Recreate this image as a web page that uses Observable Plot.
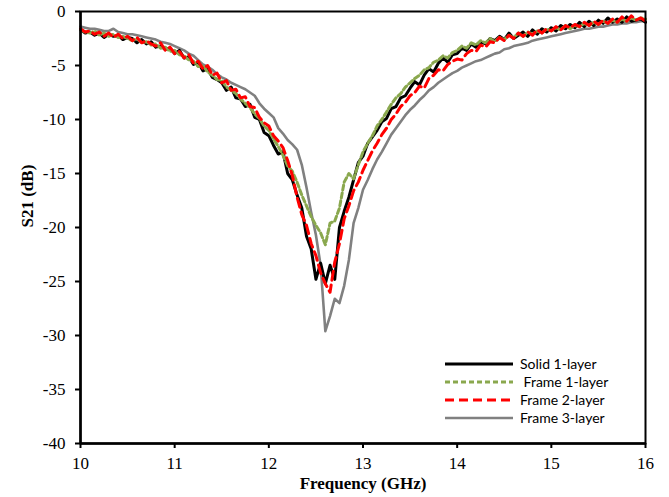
<!DOCTYPE html>
<html>
<head>
<meta charset="utf-8">
<script src="https://cdn.jsdelivr.net/npm/d3@7"></script>
<script src="https://cdn.jsdelivr.net/npm/@observablehq/plot@0.6"></script>
<style>
  html, body { margin: 0; padding: 0; background: #fff; }
  #chart { width: 669px; height: 497px; }
</style>
</head>
<body>
<div id="chart"></div>
<script>
// Frequency grid (GHz)
const freq = [
  10.00,10.05,10.10,10.15,10.20,10.25,10.30,10.35,10.40,10.45,10.50,10.55,10.60,10.65,10.70,10.75,10.80,10.85,10.90,10.95,
  11.00,11.05,11.10,11.15,11.20,11.25,11.30,11.35,11.40,11.45,11.50,11.55,11.60,11.65,11.70,11.75,11.80,11.85,11.90,11.95,
  12.00,12.05,12.10,12.15,12.20,12.25,12.30,12.35,12.40,12.45,12.50,12.55,12.60,12.65,12.70,12.75,12.80,12.85,12.90,12.95,
  13.00,13.05,13.10,13.15,13.20,13.25,13.30,13.35,13.40,13.45,13.50,13.55,13.60,13.65,13.70,13.75,13.80,13.85,13.90,13.95,
  14.00,14.05,14.10,14.15,14.20,14.25,14.30,14.35,14.40,14.45,14.50,14.55,14.60,14.65,14.70,14.75,14.80,14.85,14.90,14.95,
  15.00,15.05,15.10,15.15,15.20,15.25,15.30,15.35,15.40,15.45,15.50,15.55,15.60,15.65,15.70,15.75,15.80,15.85,15.90,15.95,
  16.00
];

// S21 (dB) per series
const solid1 = [
  -1.7,-2.0,-1.9,-2.2,-2.0,-2.4,-2.1,-2.3,-2.2,-2.6,-2.4,-2.5,-2.9,-2.6,-3.0,-2.8,-3.3,-3.2,-3.5,-3.4,
  -3.9,-3.6,-4.3,-4.2,-4.9,-4.7,-5.5,-5.3,-6.1,-6.3,-6.6,-7.3,-7.0,-8.0,-8.1,-8.8,-8.6,-9.8,-10.0,-11.2,
  -11.5,-12.4,-13.2,-13.0,-15.0,-15.6,-17.0,-18.2,-20.8,-22.0,-24.8,-23.3,-25.2,-23.5,-24.8,-20.0,-18.5,-17.2,-15.6,-14.0,
  -13.4,-12.2,-11.6,-11.0,-10.2,-9.9,-9.0,-8.8,-8.0,-7.8,-7.1,-6.5,-6.8,-5.9,-5.3,-5.6,-4.8,-4.3,-4.7,-4.0,
  -3.9,-3.4,-3.6,-3.0,-3.3,-2.8,-3.0,-2.5,-2.7,-2.3,-2.6,-2.0,-2.5,-2.2,-1.9,-2.3,-1.7,-2.1,-1.6,-1.9,
  -1.5,-1.8,-1.3,-1.6,-1.2,-1.5,-1.0,-1.4,-0.9,-1.3,-0.8,-1.1,-0.6,-1.0,-0.7,-1.0,-0.5,-0.9,-0.8,-0.7,
  -1.0
];
const frame1 = [
  -1.7,-1.9,-2.0,-1.8,-2.2,-2.0,-2.3,-2.1,-2.4,-2.3,-2.5,-2.7,-2.5,-2.9,-2.8,-3.1,-3.0,-3.4,-3.3,-3.7,
  -3.6,-4.0,-4.1,-4.5,-4.6,-5.1,-5.0,-5.6,-5.9,-6.3,-6.4,-7.0,-7.3,-7.6,-8.1,-8.5,-8.9,-9.5,-9.9,-10.6,
  -11.0,-11.8,-12.5,-13.3,-14.3,-14.8,-15.8,-17.0,-18.0,-19.0,-19.8,-20.5,-21.6,-19.6,-19.4,-18.2,-15.8,-15.0,-15.5,-14.2,
  -13.0,-12.2,-11.5,-10.6,-10.0,-9.3,-8.6,-8.0,-7.6,-7.0,-6.6,-6.2,-5.9,-5.4,-5.2,-4.7,-4.5,-4.1,-4.3,-3.8,
  -3.6,-3.2,-3.4,-2.9,-3.1,-2.7,-2.9,-2.5,-2.8,-2.4,-2.6,-2.2,-2.4,-2.0,-2.3,-1.9,-2.1,-1.8,-2.0,-1.6,
  -1.8,-1.5,-1.7,-1.3,-1.6,-1.3,-1.4,-1.1,-1.3,-1.0,-1.2,-0.9,-1.1,-0.8,-1.0,-0.7,-0.9,-0.6,-0.8,-0.6,
  -0.7
];
const frame2 = [
  -1.6,-1.9,-1.8,-2.1,-1.9,-2.3,-2.0,-2.4,-2.1,-2.5,-2.3,-2.7,-2.4,-2.9,-2.7,-3.0,-3.2,-2.9,-3.6,-3.3,
  -3.9,-3.7,-4.3,-4.0,-4.8,-4.6,-5.3,-5.0,-5.9,-5.7,-6.6,-6.4,-7.3,-7.2,-8.0,-7.9,-8.8,-8.9,-9.8,-10.3,
  -10.6,-11.5,-12.0,-12.6,-13.8,-15.2,-17.2,-18.8,-19.8,-21.5,-22.6,-24.2,-25.2,-26.0,-23.2,-21.5,-19.2,-18.0,-16.6,-15.8,
  -14.7,-13.8,-12.9,-12.2,-11.4,-10.8,-10.0,-9.5,-8.8,-8.4,-7.8,-7.5,-6.9,-7.1,-6.2,-5.9,-5.4,-5.5,-4.9,-4.6,
  -4.4,-4.5,-3.9,-3.6,-3.7,-3.1,-3.3,-2.8,-2.9,-2.4,-2.7,-2.2,-2.5,-2.0,-2.3,-1.9,-2.2,-1.7,-2.0,-1.6,
  -1.8,-1.4,-1.7,-1.3,-1.5,-1.2,-1.4,-1.0,-1.3,-0.9,-1.2,-0.8,-1.1,-0.7,-1.0,-0.5,-0.9,-0.4,-0.8,-0.6,
  -0.9
];
const frame3 = [
  -1.4,-1.5,-1.6,-1.6,-1.7,-1.8,-1.8,-1.6,-1.9,-2.0,-2.1,-2.1,-2.2,-2.3,-2.4,-2.5,-2.6,-2.8,-2.9,-3.0,
  -3.2,-3.4,-3.6,-3.9,-4.1,-4.5,-4.9,-5.1,-5.4,-5.8,-6.1,-6.3,-6.6,-6.8,-7.0,-7.2,-7.5,-7.8,-8.5,-9.0,
  -9.4,-9.8,-10.8,-11.3,-11.9,-12.3,-12.8,-14.2,-16.3,-18.6,-20.7,-23.5,-29.6,-28.2,-26.6,-27.0,-25.4,-23.0,-19.6,-18.2,
  -16.5,-15.6,-14.6,-13.7,-13.0,-12.2,-11.4,-10.8,-10.2,-9.6,-9.1,-8.7,-8.2,-7.8,-7.3,-7.0,-6.6,-6.3,-6.0,-5.7,
  -5.5,-5.2,-5.0,-4.8,-4.6,-4.5,-4.3,-4.1,-3.9,-3.8,-3.5,-3.4,-3.2,-3.1,-3.0,-2.9,-2.7,-2.6,-2.5,-2.4,
  -2.3,-2.2,-2.1,-2.0,-1.9,-1.8,-1.7,-1.6,-1.6,-1.5,-1.4,-1.4,-1.3,-1.2,-1.2,-1.1,-1.1,-1.0,-1.0,-0.9,
  -0.9
];

const seriesNames = ["Solid 1-layer", " Frame 1-layer", "Frame 2-layer", "Frame 3-layer"];
const seriesValues = [solid1, frame1, frame2, frame3];
const seriesColors = ["#000000", "#8aa84e", "#ff0000", "#808080"];
const seriesDash = [null, "5,3", "9,5", null];
const seriesWidth = [3, 3, 3, 2.6];
const drawOrder = [3, 0, 1, 2];

const xTicks = [10, 11, 12, 13, 14, 15, 16];
const yTicks = [0, -5, -10, -15, -20, -25, -30, -35, -40];

const serif = "Liberation Serif";

const lineMarks = drawOrder.map(i =>
  Plot.line(freq.map((f, k) => ({f, v: seriesValues[i][k]})), {
    x: "f", y: "v",
    stroke: seriesColors[i],
    strokeWidth: seriesWidth[i],
    strokeDasharray: seriesDash[i] || undefined,
    strokeLinejoin: "round"
  })
);

const chart = Plot.plot({
  width: 669,
  height: 497,
  marginLeft: 80,
  marginRight: 24,
  marginTop: 11,
  marginBottom: 54,
  style: {color: "#000", background: "#fff"},
  x: {domain: [10, 16], label: null},
  y: {domain: [-40, 0], label: null},
  marks: [
    ...lineMarks,
    Plot.frame({stroke: "#000", strokeWidth: 2}),
    Plot.axisX({ticks: xTicks, tickSize: 5, tickPadding: 8, tickFormat: d => String(d), strokeWidth: 2, fontSize: 17, fontFamily: serif}),
    Plot.axisY({ticks: yTicks, tickSize: 5, tickPadding: 10, tickFormat: d => String(d), strokeWidth: 2, fontSize: 17, fontFamily: serif}),
    Plot.ruleX([10], {stroke: "#000", strokeWidth: 2.5}),
    Plot.ruleY([-40], {stroke: "#000", strokeWidth: 2.5}),
    Plot.text(["Frequency (GHz)"], {frameAnchor: "bottom", dy: 45, fontWeight: "bold", fontSize: 17, fontFamily: serif}),
    Plot.text(["S21 (dB)"], {frameAnchor: "left", dx: -53, rotate: -90, fontWeight: "bold", fontSize: 17, fontFamily: serif})
  ]
});

document.getElementById("chart").appendChild(chart);

// Legend (inside the plot, lower right)
const svg = d3.select(chart);
const leg = svg.append("g").attr("transform", "translate(445,364)");
seriesNames.forEach((name, i) => {
  const g = leg.append("g").attr("transform", `translate(0,${i * 18})`);
  g.append("line")
    .attr("x1", 0).attr("x2", 68).attr("y1", 0).attr("y2", 0)
    .attr("stroke", seriesColors[i])
    .attr("stroke-width", seriesWidth[i])
    .attr("stroke-dasharray", seriesDash[i]);
  g.append("text")
    .attr("x", 75).attr("y", 0).attr("dy", "0.35em")
    .attr("text-anchor", "start")
    .attr("font-family", "Lato")
    .attr("font-size", 14)
    .attr("fill", "#000")
    .style("white-space", "pre")
    .text(name);
});
</script>
</body>
</html>
